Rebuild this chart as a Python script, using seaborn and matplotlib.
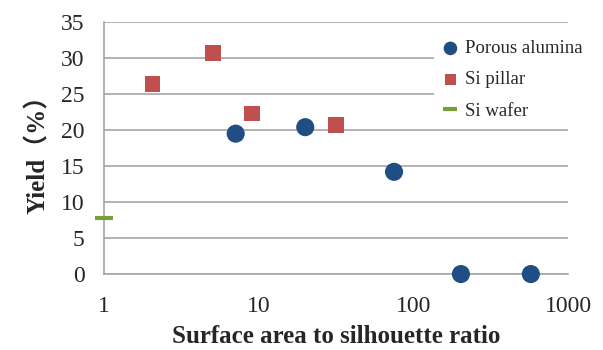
import matplotlib
matplotlib.use("Agg")
import matplotlib.pyplot as plt
import numpy as np
import pandas as pd
import seaborn as sns

# values
alumina_x = [7.1, 20.0, 75.0, 203.0, 575.0]
alumina_y = [19.5, 20.4, 14.2, 0.0, 0.0]
pillar_x = [2.07, 5.07, 9.05, 31.6]
pillar_y = [26.4, 30.7, 22.3, 20.7]
wafer_x = [1.0]
wafer_y = [7.8]

x_ticks = [1, 10, 100, 1000]
y_ticks = [0, 5, 10, 15, 20, 25, 30, 35]

sns.set_theme(style="white")
plt.rcParams["font.family"] = ["Liberation Serif", "Noto Sans CJK JP"]

fig = plt.figure(figsize=(6.03, 3.5), dpi=100)
ax = fig.add_axes([0.1725, 0.217, 0.7695, 0.72])

grid_c = "#a6a6a6"
for y in y_ticks:
    ax.axhline(y, color=grid_c, lw=1.2, zorder=0)

sns.scatterplot(x=alumina_x, y=alumina_y, ax=ax, marker="o", s=170,
                color="#1f4e84", edgecolor="none", label="Porous alumina",
                zorder=3, clip_on=False)
sns.scatterplot(x=pillar_x, y=pillar_y, ax=ax, marker="s", s=120,
                color="#c0504d", edgecolor="none", label="Si pillar",
                zorder=3, clip_on=False)
ax.plot(wafer_x, wafer_y, ls="none", marker="_", ms=13, mew=3,
        color="#77a03c", label="Si wafer", zorder=4, clip_on=False)

ax.set_xscale("log")
ax.set_xlim(1, 1000)
ax.set_ylim(0, 35)
ax.set_xticks(x_ticks)
ax.set_xticklabels([str(t) for t in x_ticks])
ax.xaxis.set_minor_locator(matplotlib.ticker.NullLocator())
ax.set_yticks(y_ticks)
ax.set_yticklabels([str(t) for t in y_ticks])

for s in ["top", "right"]:
    ax.spines[s].set_visible(False)
for s in ["left", "bottom"]:
    ax.spines[s].set_color(grid_c)
    ax.spines[s].set_linewidth(1.2)

ax.tick_params(axis="x", direction="inout", length=9, width=1.2,
               color=grid_c, labelsize=17, pad=11, labelcolor="#262626")
ax.tick_params(axis="y", length=0, labelsize=17, pad=14, labelcolor="#262626")

ax.set_xlabel("Surface area to silhouette ratio", fontsize=18,
              fontweight="bold", labelpad=6)
ax.set_ylabel("Yield（%）", fontsize=18, fontweight="bold", labelpad=8)

leg = ax.legend(loc="upper left", bbox_to_anchor=(0.69, 0.995), frameon=True,
                fontsize=13.5, handletextpad=0.3, borderpad=0.4,
                labelspacing=0.75, handlelength=1.0, markerscale=0.75)
leg.get_frame().set_facecolor("white")
leg.get_frame().set_edgecolor("none")
leg.get_frame().set_alpha(1)

fig.savefig("out.png", dpi=100)
